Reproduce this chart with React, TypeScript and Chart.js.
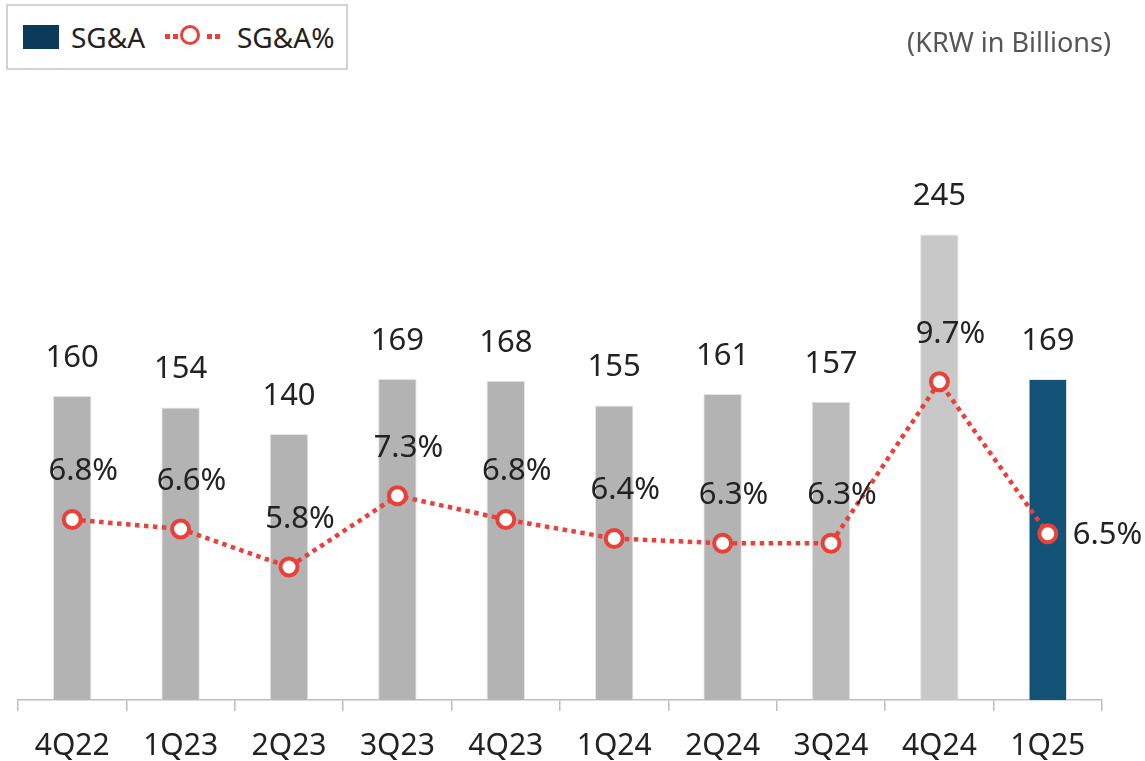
import React, { useEffect, useRef } from "react";
import { Chart, registerables } from "chart.js";

Chart.register(...registerables);

const categories = ["4Q22", "1Q23", "2Q23", "3Q23", "4Q23", "1Q24", "2Q24", "3Q24", "4Q24", "1Q25"];
const sgaValues = [160, 154, 140, 169, 168, 155, 161, 157, 245, 169];
const sgaPct = [6.8, 6.6, 5.8, 7.3, 6.8, 6.4, 6.3, 6.3, 9.7, 6.5];
const barColors = ["#B3B3B3", "#B3B3B3", "#B3B3B3", "#B3B3B3", "#B3B3B3", "#B3B3B3", "#B3B3B3", "#BBBBBB", "#C8C8C8", "#125276"];

const FONT = '"Noto Sans", "Open Sans", sans-serif';
const RED = "#E9403A";

const labelPlugin = {
  id: "valueLabels",
  afterDatasetsDraw(chart: any) {
    const ctx = chart.ctx;
    ctx.save();
    ctx.font = `31px ${FONT}`;
    ctx.fillStyle = "#222222";
    ctx.textBaseline = "middle";
    const barMeta = chart.getDatasetMeta(0);
    barMeta.data.forEach((el: any, i: number) => {
      ctx.textAlign = "center";
      ctx.fillText(String(sgaValues[i]), el.x, el.y - 38);
    });
    const lineMeta = chart.getDatasetMeta(1);
    const n = lineMeta.data.length;
    lineMeta.data.forEach((el: any, i: number) => {
      const txt = sgaPct[i].toFixed(1) + "%";
      if (i === n - 1) {
        ctx.textAlign = "left";
        ctx.fillText(txt, el.x + 25, el.y + 1);
      } else {
        ctx.textAlign = "center";
        ctx.fillText(txt, el.x + 11, el.y - 48);
      }
    });
    ctx.restore();
  },
};

export default function App() {
  const ref = useRef<HTMLCanvasElement>(null);
  useEffect(() => {
    if (!ref.current) return;
    const chart = new Chart(ref.current, {
      type: "bar",
      data: {
        labels: categories,
        datasets: [
          {
            type: "bar",
            label: "SG&A",
            data: sgaValues,
            backgroundColor: barColors,
            borderColor: "rgba(225,225,225,0.9)",
            borderWidth: 1,
            barPercentage: 0.355,
            categoryPercentage: 1,
            yAxisID: "y",
            order: 2,
          },
          {
            type: "line",
            label: "SG&A%",
            data: sgaPct,
            borderColor: RED,
            borderWidth: 4.5,
            borderDash: [4.5, 4.5],
            pointRadius: 8.5,
            pointBorderWidth: 4,
            pointBackgroundColor: "#FFFFFF",
            pointBorderColor: RED,
            fill: false,
            tension: 0,
            yAxisID: "y2",
            order: 1,
          } as any,
        ],
      },
      options: {
        responsive: false,
        animation: false,
        layout: { padding: { left: 18, right: 43, top: 130, bottom: 0 } },
        plugins: { legend: { display: false }, tooltip: { enabled: false } },
        scales: {
          x: {
            offset: true,
            grid: {
              offset: true,
              drawOnChartArea: false,
              drawTicks: true,
              tickLength: 11,
              color: "#BDBDBD",
              lineWidth: 1.5,
            },
            border: { display: true, color: "#BDBDBD", width: 1.5 },
            ticks: {
              color: "#222222",
              font: { family: FONT, size: 30 },
              padding: 17,
              maxRotation: 0,
            },
            afterFit: (scale: any) => {
              scale.height = 61;
            },
          } as any,
          y: { display: false, min: 0, max: 300 },
          y2: { display: false, min: 3, max: 15 },
        },
      },
      plugins: [labelPlugin],
    });
    return () => chart.destroy();
  }, []);

  const dot = (left: number) => (
    <div style={{ position: "absolute", left, top: 34, width: 4.5, height: 4.5, background: RED }} />
  );

  return (
    <div style={{ position: "absolute", left: 0, top: 0, width: 1145, height: 761, background: "#fff", fontFamily: FONT }}>
      <canvas ref={ref} width={1145} height={761} style={{ position: "absolute", left: 0, top: 0 }} />
      <div
        style={{
          position: "absolute",
          left: 6,
          top: 4,
          width: 338,
          height: 62,
          border: "2px solid #D2D2D2",
          background: "#fff",
        }}
      />
      <div style={{ position: "absolute", left: 23, top: 25, width: 36, height: 24, background: "#0B3A5A" }} />
      <div style={{ position: "absolute", left: 71, top: 19, fontSize: 28, lineHeight: "36px", color: "#222" }}>SG&amp;A</div>
      {dot(165)}
      {dot(173)}
      {dot(207)}
      {dot(215)}
      <div
        style={{
          position: "absolute",
          left: 180,
          top: 25,
          width: 14,
          height: 14,
          borderRadius: "50%",
          border: `3.5px solid ${RED}`,
          background: "#fff",
        }}
      />
      <div style={{ position: "absolute", left: 237, top: 19, fontSize: 28, lineHeight: "36px", color: "#222" }}>SG&amp;A%</div>
      <div
        style={{
          position: "absolute",
          right: 34,
          top: 24,
          fontSize: 27,
          lineHeight: "36px",
          color: "#555",
          whiteSpace: "nowrap",
        }}
      >
        (KRW in Billions)
      </div>
    </div>
  );
}
